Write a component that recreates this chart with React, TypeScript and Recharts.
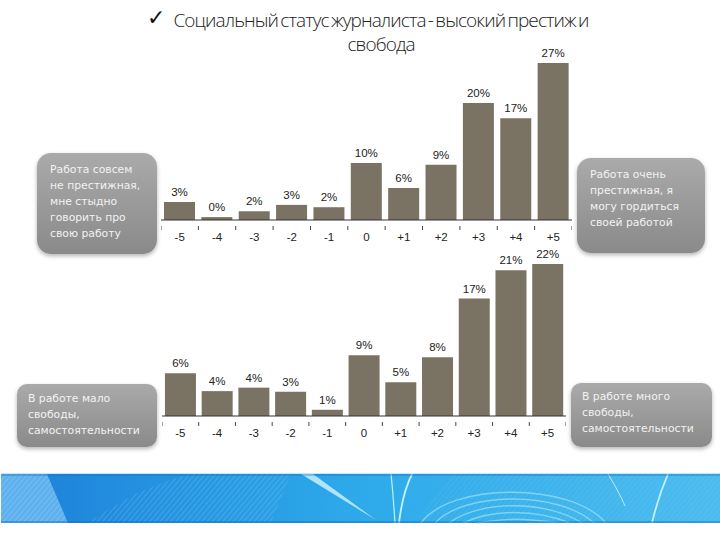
import React from 'react';
import { BarChart, Bar, XAxis, YAxis, LabelList } from 'recharts';

const scaleLabels = ['-5', '-4', '-3', '-2', '-1', '0', '+1', '+2', '+3', '+4', '+5'];

// prestige block
const prestigeValues = [3.1, 0.5, 1.5, 2.6, 2.2, 9.8, 5.5, 9.5, 20.1, 17.5, 27];
const prestigeLabels = ['3%', '0%', '2%', '3%', '2%', '10%', '6%', '9%', '20%', '17%', '27%'];

// freedom block
const freedomValues = [6.2, 3.6, 4.1, 3.5, 0.9, 8.8, 4.9, 8.5, 17, 21.1, 22];
const freedomLabels = ['6%', '4%', '4%', '3%', '1%', '9%', '5%', '8%', '17%', '21%', '22%'];

const titleLines = ['Социальный статус журналиста - высокий престиж и', 'свобода'];

const prestigeLowText = ['Работа совсем', 'не престижная,', 'мне стыдно', 'говорить про', 'свою работу'];
const prestigeHighText = ['Работа очень', 'престижная, я', 'могу гордиться', 'своей работой'];
const freedomLowText = ['В работе мало', 'свободы,', 'самостоятельности'];
const freedomHighText = ['В работе много', 'свободы,', 'самостоятельности'];

const BAR_COLOR = '#7a7364';

const makeRows = (values: number[], labels: string[]) =>
  scaleLabels.map((name, i) => ({ name, value: values[i], label: labels[i] }));

// tick marks sit between the bars, the label stays under the bar
const BandTick = ({ x, y, payload, index, band, count }: any) => (
  <g>
    <line x1={x - band / 2} x2={x - band / 2} y1={y - 2} y2={y + 2} stroke="#444" strokeWidth={1} />
    {index === count - 1 && (
      <line x1={x + band / 2} x2={x + band / 2} y1={y - 2} y2={y + 2} stroke="#444" strokeWidth={1} />
    )}
    <text x={x} y={y + 13} textAnchor="middle" fontSize={11.5} fill="#222" fontFamily="Liberation Sans">
      {payload.value}
    </text>
  </g>
);

const ScaleChart = ({ rows, left, top, width, plotHeight, max, gap }: any) => (
  <div style={{ position: 'absolute', left, top }}>
    <BarChart
      width={width}
      height={plotHeight + 50}
      data={rows}
      margin={{ top: 20, right: 0, bottom: 0, left: 0 }}
      barCategoryGap={gap}
    >
      <YAxis hide domain={[0, max]} />
      <XAxis
        dataKey="name"
        height={30}
        interval={0}
        tickLine={false}
        axisLine={{ stroke: '#333', strokeWidth: 1 }}
        tick={<BandTick band={width / scaleLabels.length} count={scaleLabels.length} />}
      />
      <Bar dataKey="value" fill={BAR_COLOR} isAnimationActive={false}>
        <LabelList
          dataKey="label"
          position="top"
          offset={6}
          fontSize={11.5}
          fill="#222"
          fontFamily="Liberation Sans"
        />
      </Bar>
    </BarChart>
  </div>
);

const Callout = ({ lines, left, top, width, height, padLeft, padTop, lineHeight, radius }: any) => (
  <div
    style={{
      position: 'absolute',
      left,
      top,
      width,
      height,
      boxSizing: 'border-box',
      paddingLeft: padLeft,
      paddingTop: padTop,
      borderRadius: radius,
      background: 'linear-gradient(#aaaaaa, #8a8a8a)',
      boxShadow: '0 2px 4px rgba(0,0,0,0.3)',
      color: '#f2f2f2',
      fontFamily: 'DejaVu Sans',
      fontSize: 10.8,
      lineHeight: `${lineHeight}px`,
      whiteSpace: 'nowrap',
    }}
  >
    {lines.map((t: string) => (
      <div key={t}>{t}</div>
    ))}
  </div>
);

// template strip at the foot of the slide
const Banner = () => (
  <svg width={719} height={51} style={{ position: 'absolute', left: 1, top: 473 }}>
    <defs>
      <linearGradient id="strip" x1="0" x2="1" y1="0" y2="0">
        <stop offset="0" stopColor="#1d7fd8" />
        <stop offset="0.2" stopColor="#2391e0" />
        <stop offset="0.5" stopColor="#2eaaea" />
        <stop offset="1" stopColor="#4cbcee" />
      </linearGradient>
      <pattern id="hatch" width="4" height="4" patternUnits="userSpaceOnUse" patternTransform="rotate(40)">
        <line x1="0" y1="0" x2="0" y2="4" stroke="#a9dcf7" strokeWidth="1.2" opacity={0.55} />
      </pattern>
    </defs>
    <rect y={0} width={719} height={1} fill="#bdeafb" />
    <g transform="translate(0 1)">
      <rect width={719} height={49} fill="url(#strip)" />
      <path d="M0 0H46L67 49H0Z" fill="#5eb0ee" />
      <path d="M0 0H46L67 49H0Z" fill="url(#hatch)" />
      <path d="M86 49C120 26 150 10 190 0H290L270 49Z" fill="url(#hatch)" opacity={0.7} />
      <path d="M300 0H312L375 46Z" fill="#c8eefb" opacity={0.85} />
      <path d="M390 0C392 18 393 34 394 49" fill="none" stroke="#c4f0fc" strokeWidth={1.2} />
      <path d="M411 0C404 14 400 32 398 49" fill="none" stroke="#c4f0fc" strokeWidth={1.8} />
      <path d="M415 49L450 0H719V49Z" fill="url(#hatch)" opacity={0.35} />
      {[0, 1, 2, 3, 4].map((i) => (
        <path
          key={i}
          d={`M${420 + i * 14} 49C${450 + i * 14} ${8 + i * 9} ${570 - i * 12} ${8 + i * 9} ${605 - i * 12} 49`}
          fill="none"
          stroke="#8fdcf6"
          strokeWidth={1.4}
          opacity={0.8}
        />
      ))}
      <path d="M607 0C613 10 620 22 624 32" fill="none" stroke="#b8ecfb" strokeWidth={1} />
      <path d="M667 0C660 16 655 32 651 49" fill="none" stroke="#c4f0fc" strokeWidth={1.8} />
      <rect width={719} height={2} fill="#1b6fb8" opacity={0.35} />
      <rect y={47} width={719} height={2} fill="#1b6fb8" opacity={0.45} />
    </g>
  </svg>
);

export default function App() {
  return (
    <div style={{ position: 'absolute', left: 0, top: 0, width: 720, height: 540, background: '#fff', overflow: 'hidden' }}>
      <div
        style={{
          position: 'absolute',
          left: 147,
          top: 5,
          fontSize: 22,
          fontWeight: 700,
          lineHeight: '26px',
          fontFamily: 'DejaVu Sans',
          color: '#111',
        }}
      >
        ✓
      </div>
      <div
        style={{
          position: 'absolute',
          left: 173,
          top: 8,
          width: 416,
          textAlign: 'center',
          fontFamily: 'Open Sans',
          fontWeight: 300,
          fontSize: 19,
          letterSpacing: -0.9,
          wordSpacing: -1.8,
          lineHeight: '24px',
          color: '#222',
          whiteSpace: 'nowrap',
        }}
      >
        {titleLines.map((t) => (
          <div key={t}>{t}</div>
        ))}
      </div>

      <ScaleChart rows={makeRows(prestigeValues, prestigeLabels)} left={161} top={43} width={411} plotHeight={157} max={27} gap="8%" />
      <ScaleChart rows={makeRows(freedomValues, freedomLabels)} left={162} top={244} width={404} plotHeight={152} max={22} gap="8%" />

      <Callout lines={prestigeLowText} left={37} top={153} width={120} height={101} padLeft={13} padTop={9} lineHeight={16} radius={14} />
      <Callout lines={prestigeHighText} left={577} top={158} width={128} height={95} padLeft={13} padTop={9} lineHeight={16} radius={14} />
      <Callout lines={freedomLowText} left={17} top={384} width={140} height={63} padLeft={11} padTop={7} lineHeight={16} radius={10} />
      <Callout lines={freedomHighText} left={571} top={383} width={141} height={64} padLeft={11} padTop={6} lineHeight={16} radius={10} />

      <Banner />
    </div>
  );
}
